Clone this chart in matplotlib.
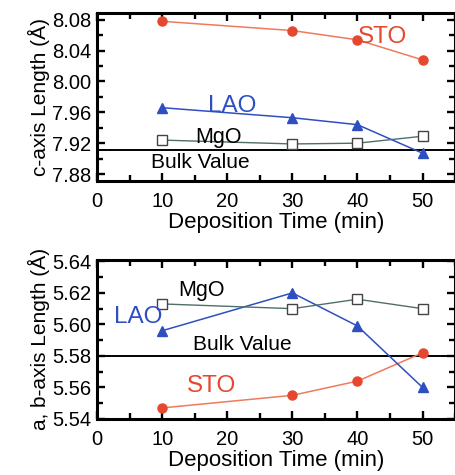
import matplotlib
matplotlib.use('Agg')
import matplotlib.pyplot as plt
from matplotlib.ticker import MultipleLocator

plt.rcParams['font.family'] = ['Liberation Sans', 'DejaVu Sans']

# ── Data ─────────────────────────────────────────────────────────────────────
time = [10, 30, 40, 50]

c_sto = [8.078, 8.066, 8.054, 8.028]
c_lao = [7.966, 7.953, 7.944, 7.907]
c_mgo = [7.924, 7.919, 7.920, 7.929]
c_bulk = 7.911

ab_sto = [5.547, 5.555, 5.564, 5.582]
ab_lao = [5.596, 5.620, 5.599, 5.560]
ab_mgo = [5.613, 5.610, 5.616, 5.610]
ab_bulk = 5.580

RED = '#e5472f'
RED_LINE = '#f07a5e'
BLUE = '#2f4fc0'
MGO_LINE = '#4f6f6a'

fig = plt.figure(figsize=(4.56, 4.75), dpi=100)
ax1 = fig.add_axes([0.213, 0.619, 0.785, 0.354])
ax2 = fig.add_axes([0.213, 0.118, 0.785, 0.335])


def style(ax):
    ax.set_xlim(0, 55)
    ax.xaxis.set_major_locator(MultipleLocator(10))
    ax.xaxis.set_minor_locator(MultipleLocator(5))
    ax.tick_params(which='both', direction='in', top=True, right=True,
                   labelsize=14.5, width=1.7)
    ax.tick_params(which='major', length=6)
    ax.tick_params(which='minor', length=4)
    ax.tick_params(axis='x', pad=8)
    ax.tick_params(axis='y', pad=4)
    for s in ax.spines.values():
        s.set_linewidth(2.2)
    ax.set_xlabel('Deposition Time (min)', fontsize=16, labelpad=1)


def series(ax, sto, lao, mgo, bulk):
    ax.plot(time, sto, '-', color=RED_LINE, lw=1.1, zorder=2)
    ax.plot(time, sto, 'o', color=RED, ms=6.5, zorder=3)
    ax.plot(time, lao, '-', color=BLUE, lw=1.1, zorder=2)
    ax.plot(time, lao, '^', color=BLUE, ms=7, zorder=3)
    ax.plot(time, mgo, '-', color=MGO_LINE, lw=1.0, zorder=2)
    ax.plot(time, mgo, 's', mfc='white', mec='#444444', mew=1.0, ms=7, zorder=3)
    ax.axhline(bulk, color='black', lw=1.4, zorder=1)


# ── Top panel: c-axis ────────────────────────────────────────────────────────
series(ax1, c_sto, c_lao, c_mgo, c_bulk)
style(ax1)
ax1.set_ylim(7.871, 8.089)
ax1.yaxis.set_major_locator(MultipleLocator(0.04))
ax1.yaxis.set_minor_locator(MultipleLocator(0.02))
ax1.yaxis.set_major_formatter(plt.FormatStrFormatter('%.2f'))
ax1.set_ylabel('c-axis Length (Å)', fontsize=15, labelpad=2)
ax1.text(43.9, 8.058, 'STO', color=RED, fontsize=17.5, ha='center', va='center')
ax1.text(20.7, 7.968, 'LAO', color=BLUE, fontsize=17.5, ha='center', va='center')
ax1.text(18.7, 7.928, 'MgO', color='black', fontsize=15.5, ha='center', va='center')
ax1.text(15.9, 7.895, 'Bulk Value', color='black', fontsize=15, ha='center', va='center')

# ── Bottom panel: a, b-axis ──────────────────────────────────────────────────
series(ax2, ab_sto, ab_lao, ab_mgo, ab_bulk)
style(ax2)
ax2.set_ylim(5.54, 5.641)
ax2.yaxis.set_major_locator(MultipleLocator(0.02))
ax2.yaxis.set_minor_locator(MultipleLocator(0.01))
ax2.yaxis.set_major_formatter(plt.FormatStrFormatter('%.2f'))
ax2.set_ylabel('a, b-axis Length (Å)', fontsize=15, labelpad=2)
ax2.text(16.1, 5.6215, 'MgO', color='black', fontsize=15.5, ha='center', va='center')
ax2.text(6.3, 5.605, 'LAO', color=BLUE, fontsize=17.5, ha='center', va='center')
ax2.text(22.3, 5.5875, 'Bulk Value', color='black', fontsize=15, ha='center', va='center')
ax2.text(17.6, 5.561, 'STO', color=RED, fontsize=17.5, ha='center', va='center')

fig.savefig('out.png', dpi=100)
